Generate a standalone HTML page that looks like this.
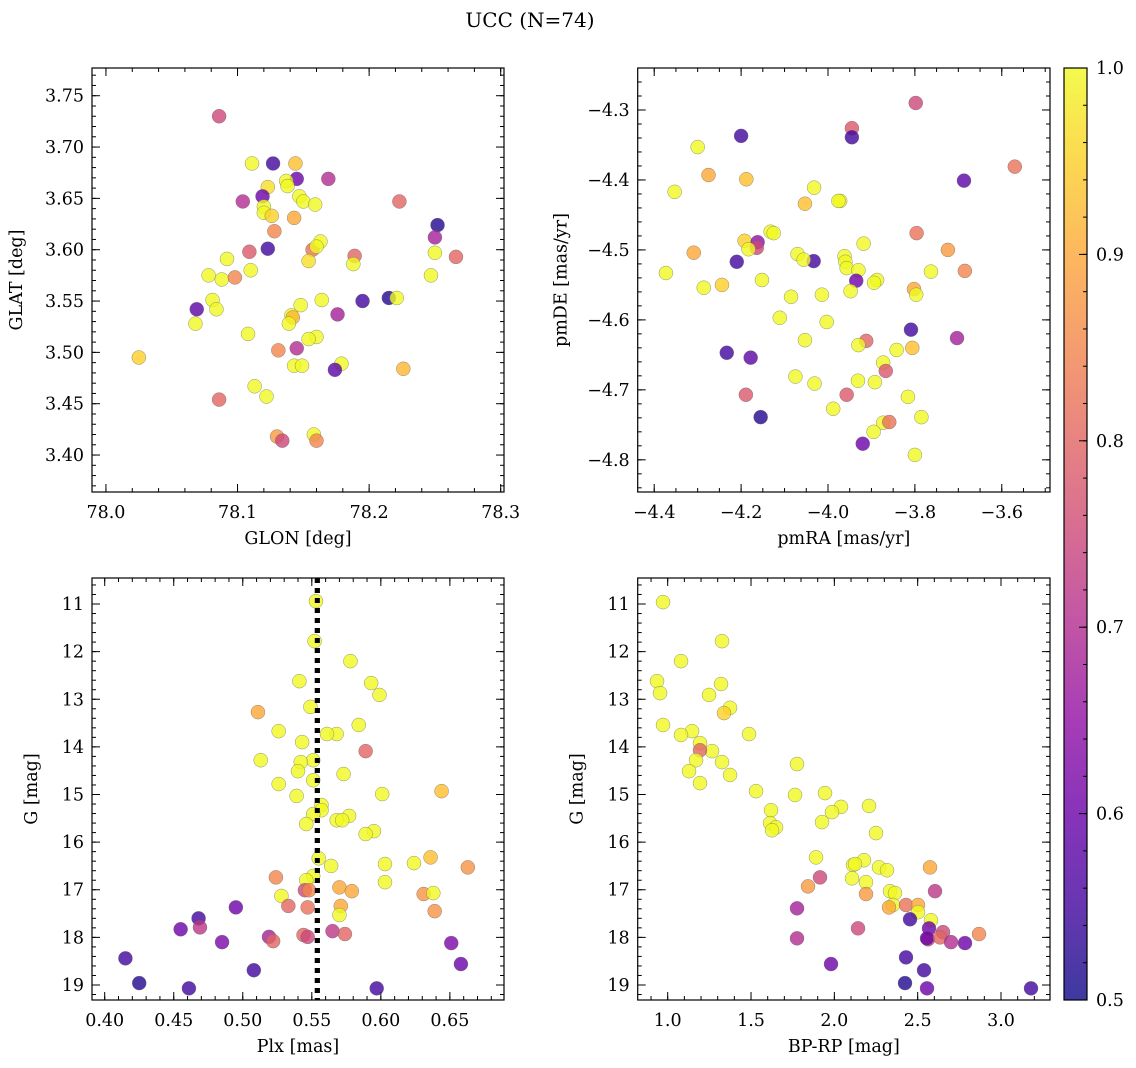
<!DOCTYPE html>
<html><head><meta charset="utf-8"><style>
html,body{margin:0;padding:0;background:#fff;}
svg{display:block;font-family:"DejaVu Serif","Liberation Serif",serif;}
</style></head><body>
<svg id="chart" width="1136" height="1068" viewBox="0 0 1136 1068" xmlns="http://www.w3.org/2000/svg">
<text x="530" y="27" font-size="20" text-anchor="middle">UCC (N=74)</text>
</svg>
<script>
// Panel 1: GLON / GLAT / membership probability
const glon=[78.086,78.111,78.127,78.144,78.145,78.169,78.137,78.123,78.138,78.119,78.104,78.147,78.150,78.159,78.120,78.120,78.143,78.126,78.223,78.252,78.128,78.123,78.109,78.157,78.163,78.160,78.154,78.189,78.188,78.250,78.250,78.266,78.092,78.088,78.098,78.078,78.110,78.247,78.081,78.084,78.069,78.164,78.195,78.215,78.221,78.148,78.176,78.141,78.142,78.139,78.068,78.108,78.160,78.154,78.131,78.145,78.143,78.149,78.179,78.174,78.226,78.025,78.113,78.122,78.086,78.130,78.134,78.158,78.160];
const glat=[3.730,3.684,3.684,3.684,3.669,3.669,3.667,3.661,3.662,3.652,3.647,3.652,3.647,3.644,3.642,3.636,3.631,3.633,3.647,3.624,3.618,3.601,3.598,3.600,3.608,3.603,3.589,3.594,3.586,3.612,3.597,3.593,3.591,3.571,3.573,3.575,3.580,3.575,3.551,3.542,3.542,3.551,3.550,3.553,3.553,3.546,3.537,3.536,3.534,3.528,3.528,3.518,3.515,3.513,3.502,3.504,3.487,3.487,3.489,3.483,3.484,3.495,3.467,3.457,3.454,3.418,3.414,3.420,3.414];
const prob1=[.75,1,.55,.93,.6,.7,1,.97,1,.6,.7,1,1,1,1,1,.9,.95,.8,.52,.85,.55,.78,.82,1,1,.97,.8,1,.68,1,.8,1,1,.85,1,1,1,1,1,.58,1,.55,.52,1,1,.68,1,.92,1,1,1,1,1,.85,.7,1,1,1,.58,.92,.95,1,1,.8,.88,.75,1,.85];
// Panel 2: pmRA / pmDE
const pmra=[-3.798,-4.200,-3.945,-3.945,-4.300,-3.570,-3.687,-4.275,-4.188,-4.353,-4.032,-4.053,-3.972,-3.976,-4.132,-4.125,-3.796,-4.192,-4.162,-4.164,-4.183,-3.918,-4.373,-4.309,-4.210,-4.033,-4.070,-4.056,-3.962,-3.960,-3.957,-3.930,-3.724,-3.763,-3.685,-3.935,-3.887,-3.894,-4.152,-4.286,-4.244,-3.802,-3.797,-3.948,-4.014,-4.085,-4.111,-4.003,-3.809,-3.703,-3.912,-4.053,-3.930,-4.233,-4.178,-3.842,-3.806,-3.873,-3.867,-4.075,-4.031,-3.931,-3.892,-4.189,-3.957,-3.816,-3.988,-4.155,-3.785,-3.873,-3.859,-3.895,-3.920,-3.800];
const pmde=[-4.290,-4.337,-4.326,-4.339,-4.353,-4.381,-4.401,-4.393,-4.399,-4.417,-4.411,-4.434,-4.430,-4.430,-4.474,-4.476,-4.476,-4.487,-4.489,-4.497,-4.499,-4.491,-4.533,-4.504,-4.517,-4.516,-4.506,-4.514,-4.509,-4.517,-4.526,-4.529,-4.500,-4.531,-4.530,-4.544,-4.543,-4.547,-4.543,-4.554,-4.550,-4.556,-4.564,-4.559,-4.564,-4.567,-4.597,-4.603,-4.614,-4.626,-4.630,-4.629,-4.636,-4.647,-4.654,-4.643,-4.640,-4.661,-4.673,-4.681,-4.691,-4.687,-4.689,-4.707,-4.707,-4.710,-4.727,-4.739,-4.739,-4.747,-4.746,-4.760,-4.777,-4.793];
const prob2=[.75,.55,.78,.55,1,.82,.58,.9,.93,1,1,.93,1,1,1,1,.82,.95,.65,.75,1,1,1,.9,.55,.55,1,1,1,1,1,1,.88,1,.85,.6,1,1,1,1,.95,.9,1,1,1,1,1,1,.55,.68,.8,1,1,.55,.58,1,.93,1,.78,1,1,1,1,.78,.78,1,1,.52,1,1,.82,1,.6,1];
// Panel 3: Plx / G
const plx=[0.553,0.552,0.578,0.593,0.541,0.599,0.511,0.549,0.584,0.526,0.568,0.561,0.543,0.589,0.551,0.513,0.542,0.540,0.573,0.551,0.526,0.539,0.601,0.644,0.557,0.557,0.551,0.577,0.568,0.572,0.546,0.595,0.589,0.555,0.564,0.603,0.624,0.636,0.663,0.603,0.551,0.546,0.524,0.570,0.631,0.638,0.528,0.579,0.545,0.548,0.533,0.571,0.495,0.547,0.639,0.570,0.468,0.469,0.455,0.565,0.574,0.544,0.547,0.519,0.522,0.485,0.651,0.415,0.658,0.508,0.425,0.461,0.597];
const gmag3=[10.94,11.78,12.20,12.66,12.62,12.91,13.27,13.16,13.54,13.67,13.73,13.73,13.90,14.09,14.28,14.28,14.32,14.51,14.57,14.70,14.78,15.03,14.99,14.93,15.22,15.33,15.41,15.45,15.54,15.54,15.62,15.77,15.83,16.34,16.50,16.46,16.44,16.32,16.53,16.84,16.71,16.80,16.74,16.95,17.09,17.07,17.13,17.03,17.01,17.01,17.34,17.34,17.37,17.37,17.45,17.53,17.60,17.79,17.83,17.87,17.93,17.95,17.99,17.99,18.08,18.10,18.12,18.44,18.56,18.69,18.96,19.07,19.07];
const prob3=[1,1,1,1,1,1,.9,1,1,1,1,1,1,.8,1,1,1,1,1,1,1,1,1,.93,1,1,1,1,1,1,1,1,1,1,1,1,1,.93,.87,1,1,1,.85,.9,.87,1,1,.9,.75,.85,.8,.9,.6,.82,.87,1,.55,.72,.6,.72,.8,.8,.75,.68,.8,.62,.62,.55,.6,.55,.52,.55,.55];
const plxRef=0.554;
// Panel 4: BP-RP / G
const bprp=[0.972,0.936,1.080,1.326,0.954,1.248,1.320,0.972,1.374,1.338,1.146,1.080,1.488,1.194,1.266,1.194,1.170,1.326,1.128,1.374,1.194,1.776,1.764,1.944,1.530,2.040,1.986,2.208,1.620,1.926,1.614,1.650,1.626,2.250,1.890,2.178,2.112,2.124,2.268,2.316,2.574,1.914,2.106,1.842,2.190,2.334,2.364,2.190,2.604,2.352,2.328,2.430,2.502,2.502,2.580,1.776,2.454,2.568,2.142,2.652,2.868,2.562,2.556,2.634,2.700,2.784,1.776,2.430,1.980,2.538,2.424,2.556,3.180];
const gmag4=[10.96,12.62,12.20,11.78,12.87,12.91,12.68,13.54,13.18,13.29,13.67,13.75,13.73,13.92,14.09,14.07,14.28,14.32,14.51,14.59,14.76,14.36,15.01,14.97,14.93,15.26,15.37,15.24,15.33,15.58,15.60,15.69,15.75,15.81,16.32,16.38,16.48,16.46,16.53,16.59,16.53,16.74,16.76,16.93,16.84,17.03,17.07,17.09,17.03,17.32,17.37,17.32,17.32,17.47,17.64,17.39,17.62,17.81,17.81,17.89,17.93,18.04,18.02,18.00,18.10,18.12,18.02,18.42,18.56,18.69,18.96,19.07,19.07];
const prob4=[1,1,1,1,1,1,1,1,1,.95,1,1,1,1,1,.8,1,1,1,1,1,1,1,1,1,1,1,1,1,1,1,1,1,1,1,1,1,1,1,1,.9,.75,1,.88,1,1,1,.88,.72,1,.9,.82,.9,1,1,.68,.55,.6,.75,.75,.85,.75,.6,.8,.7,.6,.7,.55,.6,.55,.52,.6,.55];
const cbTicks=[0.5,0.6,0.7,0.8,0.9,1.0];

const NS="http://www.w3.org/2000/svg";
const svg=document.getElementById('chart');
const FS=17.5;
function mk(tag,attrs,parent){const e=document.createElementNS(NS,tag);for(const k in attrs)e.setAttribute(k,attrs[k]);(parent||svg).appendChild(e);return e;}
const stops=[[13,8,135],[65,4,157],[106,0,168],[143,13,164],[177,42,144],[204,71,120],[225,100,98],[242,132,75],[252,166,54],[252,206,37],[240,249,33]];
function plasma(t){t=Math.max(0,Math.min(1,t));const s=t*10,i=Math.min(9,Math.floor(s)),f=s-i;const a=stops[i],b=stops[i+1];return 'rgb('+a.map((v,k)=>Math.round(v+(b[k]-v)*f)).join(',')+')';}
function pcol(p){return plasma((p-0.5)/0.5);}

function panel(cfg){
  const g=mk('g',{});
  
  
  const sx=v=>cfg.px0+(v-cfg.xd[0])/(cfg.xd[1]-cfg.xd[0])*(cfg.px1-cfg.px0);
  const sy=cfg.yinv?(v=>cfg.py0+(v-cfg.yd[0])/(cfg.yd[1]-cfg.yd[0])*(cfg.py1-cfg.py0)):(v=>cfg.py1-(v-cfg.yd[0])/(cfg.yd[1]-cfg.yd[0])*(cfg.py1-cfg.py0));
  const eps=1e-9;
  function ticksX(step,len){for(let v=Math.ceil((cfg.xd[0])/step-eps)*step;v<=cfg.xd[1]+eps;v+=step){const x=sx(v);mk('line',{x1:x,x2:x,y1:cfg.py1,y2:cfg.py1-len,stroke:'#000','stroke-width':1},g);mk('line',{x1:x,x2:x,y1:cfg.py0,y2:cfg.py0+len,stroke:'#000','stroke-width':1},g);}}
  function ticksY(step,len){const lo=Math.min(cfg.yd[0],cfg.yd[1]),hi=Math.max(cfg.yd[0],cfg.yd[1]);for(let v=Math.ceil(lo/step-eps)*step;v<=hi+eps;v+=step){const y=sy(v);mk('line',{x1:cfg.px0,x2:cfg.px0+len,y1:y,y2:y,stroke:'#000','stroke-width':1},g);mk('line',{x1:cfg.px1,x2:cfg.px1-len,y1:y,y2:y,stroke:'#000','stroke-width':1},g);}}
  ticksX(cfg.xmin,4);ticksX(cfg.xmaj,8);ticksY(cfg.ymin,4);ticksY(cfg.ymaj,8);
  cfg.xlab.forEach(v=>{const t=mk('text',{x:sx(v),y:cfg.py1+26,'font-size':FS,'text-anchor':'middle'},g);t.textContent=cfg.xfmt(v);});
  cfg.ylab.forEach(v=>{const t=mk('text',{x:cfg.px0-8,y:sy(v)+6,'font-size':FS,'text-anchor':'end'},g);t.textContent=cfg.yfmt(v);});
  const xt=mk('text',{x:(cfg.px0+cfg.px1)/2,y:cfg.py1+52,'font-size':FS,'text-anchor':'middle'},g);xt.textContent=cfg.xtitle;
  
  const yx=cfg.px0-cfg.ytOff,yy=(cfg.py0+cfg.py1)/2;
  const yt=mk('text',{x:yx,y:yy,'font-size':FS,'text-anchor':'middle',transform:'rotate(-90 '+yx+' '+yy+')'},g);yt.textContent=cfg.ytitle;
  
  if(cfg.vline!==undefined){const l=mk('line',{x1:sx(cfg.vline),x2:sx(cfg.vline),y1:cfg.py0,y2:cfg.py1,stroke:'#000','stroke-width':5,'stroke-dasharray':'5,5'},g);}
  for(let i=0;i<cfg.xs.length;i++){
    const c=mk('circle',{cx:sx(cfg.xs[i]),cy:sy(cfg.ys[i]),r:7,fill:pcol(cfg.ps[i]),'fill-opacity':0.8,stroke:'#666','stroke-opacity':0.7,'stroke-width':0.5},g);
    
    
  }
  if(cfg.vline!==undefined){const l=mk('line',{x1:sx(cfg.vline),x2:sx(cfg.vline),y1:cfg.py0,y2:cfg.py1,stroke:'#000','stroke-width':5,'stroke-dasharray':'5,5'},g);}
  mk('rect',{x:cfg.px0,y:cfg.py0,width:cfg.px1-cfg.px0,height:cfg.py1-cfg.py0,fill:'none',stroke:'#000','stroke-width':1.2},g);
}
const f1=v=>v.toFixed(1),f2=v=>v.toFixed(2),m=v=>(v<0?'\u2212':'')+Math.abs(v).toFixed(1),i0=v=>v.toFixed(0);
panel({name:'glon-glat-panel',px0:92,px1:504,py0:68,py1:492,xd:[77.9894,78.3025],yd:[3.364,3.777],xmaj:0.1,xmin:0.02,ymaj:0.05,ymin:0.01,
  xlab:[78.0,78.1,78.2,78.3],ylab:[3.40,3.45,3.50,3.55,3.60,3.65,3.70,3.75],xfmt:f1,yfmt:f2,xtitle:'GLON [deg]',ytitle:'GLAT [deg]',ytOff:70,xs:glon,ys:glat,ps:prob1});
panel({name:'pm-panel',px0:637.7,px1:1050,py0:68,py1:492,xd:[-4.438,-3.489],yd:[-4.846,-4.24],xmaj:0.2,xmin:0.05,ymaj:0.1,ymin:0.02,
  xlab:[-4.4,-4.2,-4.0,-3.8,-3.6],ylab:[-4.8,-4.7,-4.6,-4.5,-4.4,-4.3],xfmt:m,yfmt:m,xtitle:'pmRA [mas/yr]',ytitle:'pmDE [mas/yr]',ytOff:71,xs:pmra,ys:pmde,ps:prob2});
panel({name:'plx-g-panel',px0:92,px1:504,py0:578,py1:1000,xd:[0.3908,0.6892],yd:[10.454,19.315],yinv:true,xmaj:0.05,xmin:0.01,ymaj:1,ymin:0.2,
  xlab:[0.40,0.45,0.50,0.55,0.60,0.65],ylab:[11,12,13,14,15,16,17,18,19],xfmt:f2,yfmt:i0,xtitle:'Plx [mas]',ytitle:'G [mag]',ytOff:55,xs:plx,ys:gmag3,ps:prob3,vline:plxRef});
panel({name:'cmd-panel',px0:637.7,px1:1050,py0:578,py1:1000,xd:[0.82,3.294],yd:[10.454,19.315],yinv:true,xmaj:0.5,xmin:0.1,ymaj:1,ymin:0.2,
  xlab:[1.0,1.5,2.0,2.5,3.0],ylab:[11,12,13,14,15,16,17,18,19],xfmt:f1,yfmt:i0,xtitle:'BP-RP [mag]',ytitle:'G [mag]',ytOff:55,xs:bprp,ys:gmag4,ps:prob4});

// colorbar
const cb=mk('g',{});


const defs=mk('defs',{},cb);
const lg=mk('linearGradient',{id:'cbg',x1:0,y1:1,x2:0,y2:0},defs);
for(let k=0;k<=10;k++){mk('stop',{offset:k/10,'stop-color':plasma(k/10),'stop-opacity':0.8},lg);}
const cbx=1064,cbw=23,cby0=68,cby1=1000;
mk('rect',{x:cbx,y:cby0,width:cbw,height:cby1-cby0,fill:'url(#cbg)'},cb);
const cy=v=>cby1-(v-0.5)/0.5*(cby1-cby0);
for(let v=0.5;v<=1.0001;v+=0.02){mk('line',{x1:cbx+cbw,x2:cbx+cbw-4,y1:cy(v),y2:cy(v),stroke:'#000'},cb);}
cbTicks.forEach(v=>{mk('line',{x1:cbx+cbw,x2:cbx+cbw-8,y1:cy(v),y2:cy(v),stroke:'#000'},cb);const t=mk('text',{x:cbx+cbw+9,y:cy(v)+6,'font-size':FS},cb);t.textContent=v.toFixed(1);});
mk('rect',{x:cbx,y:cby0,width:cbw,height:cby1-cby0,fill:'none',stroke:'#000','stroke-width':1.2},cb);
</script>
</body></html>
